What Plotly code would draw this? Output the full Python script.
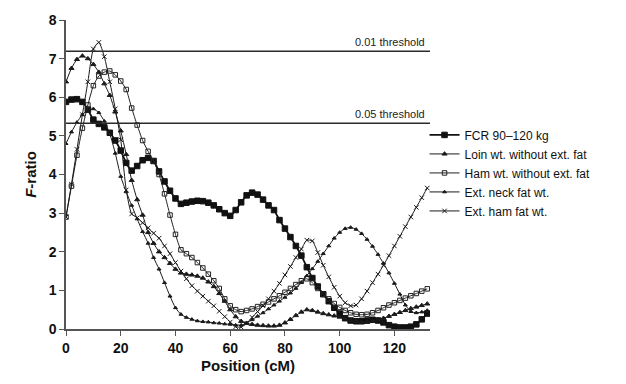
import plotly.graph_objects as go

position = list(range(0, 133, 2))

fcr = [5.88, 5.94, 5.95, 5.88, 5.68, 5.42, 5.31, 5.22, 5.08, 4.88, 4.62,
       4.30, 4.10, 4.22, 4.37, 4.43, 4.35, 4.08, 3.82, 3.58, 3.38,
       3.24, 3.27, 3.30, 3.32, 3.31, 3.27, 3.20, 3.10, 3.00, 2.93,
       3.08, 3.28, 3.46, 3.53, 3.48, 3.35, 3.20, 3.08, 2.82, 2.60,
       2.38, 2.15, 1.90, 1.60, 1.32, 1.10, 0.90, 0.72, 0.55, 0.40,
       0.28, 0.22, 0.20, 0.20, 0.22, 0.24, 0.22, 0.17, 0.10, 0.06,
       0.04, 0.04, 0.06, 0.12, 0.25, 0.40]

loin = [6.40, 6.75, 6.98, 7.07, 7.00, 6.85, 6.65, 6.35, 6.05, 5.62, 5.13,
        4.52, 3.85, 3.35, 2.95, 2.50, 2.22, 2.00, 1.85, 1.70, 1.55,
        1.45, 1.42, 1.40, 1.37, 1.32, 1.22, 1.10, 0.92, 0.72, 0.50,
        0.32, 0.20, 0.15, 0.12, 0.10, 0.09, 0.08, 0.08, 0.10, 0.16,
        0.25, 0.35, 0.44, 0.50, 0.48, 0.44, 0.40, 0.37, 0.34, 0.31,
        0.27, 0.23, 0.20, 0.18, 0.18, 0.20, 0.24, 0.28, 0.33, 0.38,
        0.43, 0.48, 0.53, 0.57, 0.61, 0.65]

ham_wt = [2.90, 3.70, 4.50, 5.20, 5.80, 6.30, 6.55, 6.65, 6.68, 6.58, 6.42,
          6.20, 5.72, 5.28, 4.88, 4.60, 4.35, 4.00, 3.50, 2.95, 2.45,
          2.05, 1.95, 1.85, 1.72, 1.58, 1.42, 1.25, 1.05, 0.78, 0.60,
          0.50, 0.45, 0.48, 0.52, 0.58, 0.64, 0.70, 0.78, 0.86, 0.95,
          1.05, 1.15, 1.25, 1.30, 1.20, 1.05, 0.90, 0.78, 0.66, 0.56,
          0.48, 0.42, 0.38, 0.37, 0.38, 0.42, 0.48, 0.55, 0.62, 0.68,
          0.74, 0.80, 0.86, 0.92, 0.98, 1.04]

neck_fat = [4.80, 5.10, 5.35, 5.55, 5.66, 5.70, 5.60, 5.38, 5.05, 4.55, 3.95,
            3.55, 3.20, 2.85, 2.52, 2.22, 1.85, 1.55, 1.20, 0.85, 0.55,
            0.38, 0.30, 0.25, 0.21, 0.19, 0.18, 0.16, 0.15, 0.13, 0.12,
            0.10, 0.10, 0.15, 0.24, 0.33, 0.42, 0.52, 0.62, 0.72, 0.82,
            0.93, 1.05, 1.20, 1.38, 1.56, 1.75, 1.95, 2.15, 2.35, 2.50,
            2.60, 2.63, 2.58, 2.47, 2.32, 2.14, 1.93, 1.70, 1.45, 1.18,
            0.90, 0.62, 0.45, 0.42, 0.44, 0.48]

ham_fat = [2.90, 3.75, 4.65, 5.55, 6.40, 7.25, 7.42, 7.05, 6.40, 5.70, 4.90,
           3.60, 2.98, 2.88, 2.75, 2.62, 2.48, 2.35, 2.15, 1.95, 1.72,
           1.50, 1.30, 1.12, 0.98, 0.85, 0.72, 0.60, 0.46, 0.32, 0.18,
           0.06, 0.05, 0.15, 0.30, 0.45, 0.60, 0.78, 0.98, 1.18, 1.40,
           1.62, 1.85, 2.07, 2.30, 2.28, 1.98, 1.65, 1.35, 1.08, 0.85,
           0.68, 0.60, 0.62, 0.78, 0.98, 1.20, 1.42, 1.65, 1.90, 2.15,
           2.40, 2.65, 2.90, 3.15, 3.40, 3.65]

series_names = ["FCR 90\u2013120 kg", "Loin wt. without ext. fat",
                "Ham wt. without ext. fat", "Ext. neck fat wt.", "Ext. ham fat wt."]
thresholds = [7.19, 5.33]
threshold_labels = ["0.01 threshold", "0.05 threshold"]
x_ticks = [0, 20, 40, 60, 80, 100, 120]
y_ticks = [0, 1, 2, 3, 4, 5, 6, 7, 8]

styles = [
    dict(symbol="square", size=5.5, lw=1.8, color="#111111"),
    dict(symbol="triangle-up", size=4.5, lw=1.0, color="#1a1a1a"),
    dict(symbol="square-open", size=4.5, lw=1.0, color="#222222"),
    dict(symbol="triangle-up", size=3.5, lw=1.0, color="#1a1a1a"),
    dict(symbol="x-thin-open", size=4.5, lw=1.0, color="#1a1a1a"),
]

fig = go.Figure()
for name, vals, st in zip(series_names, [fcr, loin, ham_wt, neck_fat, ham_fat], styles):
    fig.add_trace(go.Scatter(
        x=position, y=vals, name=name, mode="lines+markers",
        line=dict(color=st["color"], width=st["lw"], shape="spline", smoothing=0.6),
        marker=dict(symbol=st["symbol"], size=st["size"], color=st["color"],
                    line=dict(color=st["color"], width=1)),
    ))

for t, lab in zip(thresholds, threshold_labels):
    fig.add_shape(type="line", xref="x", yref="y", x0=0, x1=133, y0=t, y1=t,
                  line=dict(color="#2a2a2a", width=1.5))
    fig.add_annotation(x=132, y=t, xref="x", yref="y", text=lab, showarrow=False,
                       xanchor="right", yanchor="bottom", yshift=1,
                       font=dict(size=11, color="#222222"))

fig.update_layout(
    width=626, height=384,
    margin=dict(l=66, r=196, t=17, b=54),
    paper_bgcolor="white", plot_bgcolor="white",
    font=dict(family="Liberation Sans, Arial, sans-serif", color="#111111"),
    showlegend=True,
    legend=dict(x=0.985, y=0.675, xanchor="left", yanchor="top",
                font=dict(size=12, color="#111111"), itemwidth=30,
                tracegroupgap=0, bgcolor="rgba(0,0,0,0)"),
)
fig.update_xaxes(range=[0, 133], tickvals=x_ticks, showgrid=False, zeroline=False,
                 showline=True, linecolor="#555555", linewidth=1.5,
                 ticks="outside", ticklen=5, tickcolor="#555555",
                 tickfont=dict(size=14, family="Liberation Sans, Arial", weight="bold"),
                 title=dict(text="<b>Position (cM)</b>", font=dict(size=15), standoff=6))
fig.update_yaxes(range=[0, 8], tickvals=y_ticks, showgrid=False, zeroline=False,
                 showline=True, linecolor="#555555", linewidth=1.5,
                 ticks="outside", ticklen=5, tickcolor="#555555",
                 tickfont=dict(size=14, family="Liberation Sans, Arial", weight="bold"),
                 title=dict(text="<b><i>F</i>-ratio</b>", font=dict(size=15), standoff=8))

fig.write_html("out.html")
